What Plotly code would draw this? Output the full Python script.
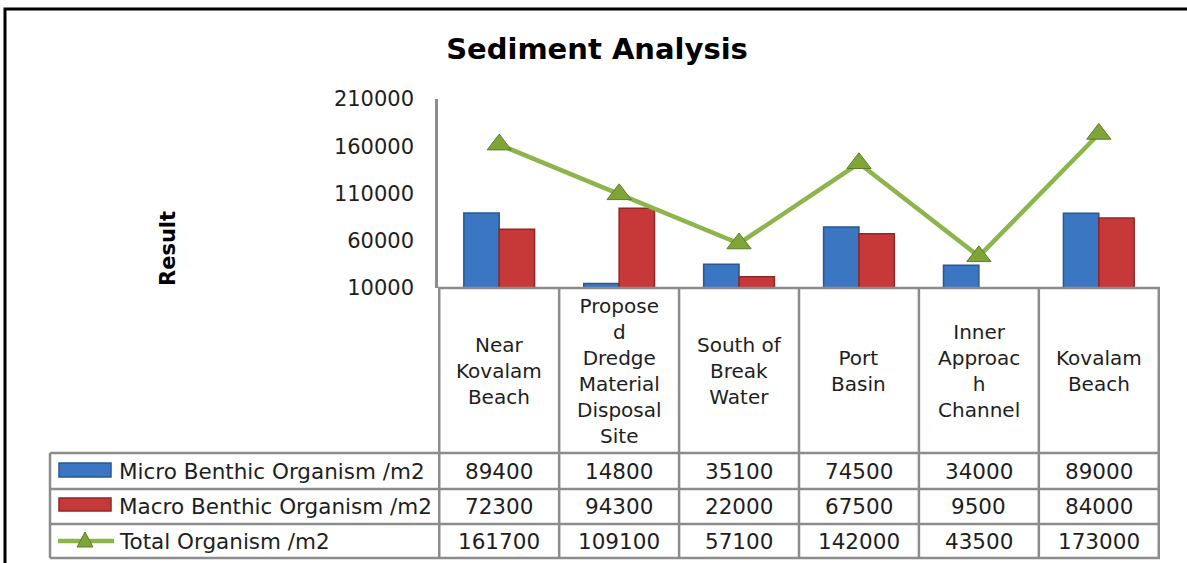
import plotly.graph_objects as go

W, H = 1187, 563

# data
categories = ["Near Kovalam Beach", "Proposed Dredge Material Disposal Site",
              "South of Break Water", "Port Basin", "Inner Approach Channel", "Kovalam Beach"]
header_labels = ["Near<br>Kovalam<br>Beach", "Propose<br>d<br>Dredge<br>Material<br>Disposal<br>Site",
                 "South of<br>Break<br>Water", "Port<br>Basin", "Inner<br>Approac<br>h<br>Channel",
                 "Kovalam<br>Beach"]
micro = [89400, 14800, 35100, 74500, 34000, 89000]
macro = [72300, 94300, 22000, 67500, 9500, 84000]
total = [161700, 109100, 57100, 142000, 43500, 173000]
series_names = ["Micro Benthic Organism /m2", "Macro Benthic Organism /m2", "Total Organism /m2"]
y_ticks = [10000, 60000, 110000, 160000, 210000]

FONT = "DejaVu Sans"
GRAY = "#8C8C8C"
TXT = "#1E1E1E"


def px(x):
    return x / W


def py(y):
    return 1 - y / H


fig = go.Figure()

fig.add_trace(go.Bar(
    x=categories, y=micro, name=series_names[0],
    marker=dict(color="#3A76C2", line=dict(color="#295890", width=1.5))
))
fig.add_trace(go.Bar(
    x=categories, y=macro, name=series_names[1],
    marker=dict(color="#C73838", line=dict(color="#8E2727", width=1.5))
))
fig.add_trace(go.Scatter(
    x=categories, y=total, name=series_names[2],
    mode="lines+markers",
    line=dict(color="#8DB54B", width=4.5),
    marker=dict(symbol="triangle-up", size=21, color="#7FA538",
                line=dict(color="#5E7E28", width=1))
))

shapes = []

def hline(y, x0, x1):
    shapes.append(dict(type="line", xref="paper", yref="paper",
                       x0=px(x0), x1=px(x1), y0=py(y), y1=py(y),
                       line=dict(color=GRAY, width=2.5)))

# table grid
hline(288, 438, 1160)
for y in [453, 489, 524, 558]:
    hline(y, 50, 1160)
shapes.append(dict(type="line", xref="paper", yref="paper",
                   x0=px(50), x1=px(50), y0=py(453), y1=py(558),
                   line=dict(color=GRAY, width=2.5)))
for i in range(len(categories) + 1):
    shapes.append(dict(type="line", xref="x", yref="paper",
                       x0=i - 0.5, x1=i - 0.5, y0=py(288), y1=py(558),
                       line=dict(color=GRAY, width=2.5)))

# legend keys inside the table
shapes.append(dict(type="rect", xref="paper", yref="paper",
                   x0=px(59), x1=px(111), y0=py(463), y1=py(477),
                   fillcolor="#3A76C2", line=dict(color="#295890", width=1.5)))
shapes.append(dict(type="rect", xref="paper", yref="paper",
                   x0=px(59), x1=px(111), y0=py(498), y1=py(511),
                   fillcolor="#C73838", line=dict(color="#8E2727", width=1.5)))
shapes.append(dict(type="line", xref="paper", yref="paper",
                   x0=px(58), x1=px(114), y0=py(541), y1=py(541),
                   line=dict(color="#8DB54B", width=4.5)))
shapes.append(dict(type="path", xref="paper", yref="paper",
                   path=f"M{px(77)},{py(547)} L{px(93)},{py(547)} L{px(85)},{py(532)} Z",
                   fillcolor="#7FA538", line=dict(color="#5E7E28", width=1)))

# outer frame
shapes.append(dict(type="rect", xref="paper", yref="paper",
                   x0=px(5), x1=px(1200), y0=py(9), y1=py(580),
                   line=dict(color="black", width=3)))

annotations = []
# header labels
for cat, lab in zip(categories, header_labels):
    annotations.append(dict(x=cat, xref="x", y=py(371), yref="paper",
                            text=lab, showarrow=False, yanchor="middle",
                            font=dict(family=FONT, size=20, color=TXT)))
# table rows
row_y = [471, 506, 541]
for name, vals, ry in zip(series_names, [micro, macro, total], row_y):
    annotations.append(dict(x=px(117), xref="paper", y=py(ry), yref="paper",
                            text=name, showarrow=False, xanchor="left", yanchor="middle",
                            font=dict(family=FONT, size=21.5, color=TXT)))
    for cat, v in zip(categories, vals):
        annotations.append(dict(x=cat, xref="x", y=py(ry), yref="paper",
                                text=str(v), showarrow=False, yanchor="middle",
                                font=dict(family=FONT, size=21.5, color=TXT)))
# axis title
annotations.append(dict(x=px(154), xref="paper", y=py(248), yref="paper",
                        text="<b>Result</b>", textangle=-90, showarrow=False,
                        font=dict(family=FONT, size=21, color="black")))

fig.update_layout(
    width=W, height=H,
    margin=dict(l=0, r=0, t=0, b=0),
    paper_bgcolor="white", plot_bgcolor="white",
    showlegend=False,
    barmode="group", bargap=0.41, bargroupgap=0,
    title=dict(text="<b>Sediment Analysis</b>", x=px(597), y=py(49),
               xanchor="center", yanchor="middle",
               font=dict(family=FONT, size=29, color="black")),
    xaxis=dict(domain=[px(438), px(1160)], showticklabels=False, showgrid=False,
               showline=False, zeroline=False, ticks="", automargin=False),
    yaxis=dict(domain=[py(288), py(99)], range=[10000, 210000], tickvals=y_ticks,
               tickformat="d", automargin=False,
               showgrid=False, zeroline=False, showline=True, linecolor=GRAY, linewidth=2.5,
               ticks="", ticklabelstandoff=17,
               tickfont=dict(family=FONT, size=21, color=TXT)),
    shapes=shapes,
    annotations=annotations,
)

# page body has a default 8px margin; drop it so the figure sits at the corner
fig.write_html("out.html", config={"displayModeBar": False},
               post_script="document.body.style.margin='0';")
